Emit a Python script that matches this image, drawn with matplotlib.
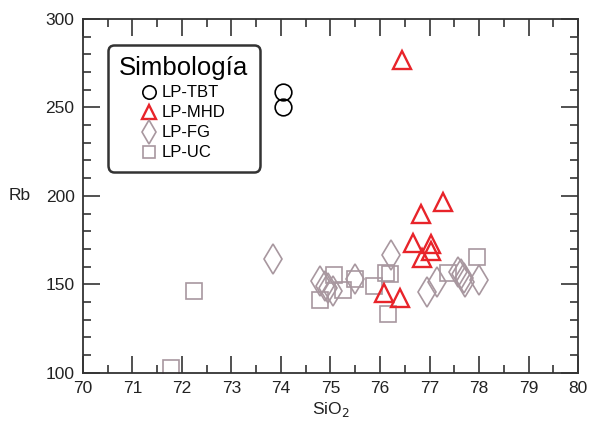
import matplotlib.pyplot as plt
from matplotlib.ticker import MultipleLocator

plt.rcParams['font.family'] = ['Liberation Sans', 'DejaVu Sans']

# LP-TBT
tbt_sio2 = [74.05, 74.05]
tbt_rb = [258.5, 250.0]

# LP-MHD
mhd_sio2 = [76.44, 77.28, 76.83, 76.66, 77.03, 77.03, 76.85, 76.09, 76.41]
mhd_rb = [277.0, 196.4, 189.7, 173.5, 173.0, 169.0, 165.0, 145.2, 142.4]

# LP-FG
fg_sio2 = [73.84, 74.79, 74.89, 74.95, 75.05, 75.50, 76.22, 76.94, 77.16,
           77.57, 77.64, 77.69, 77.72, 78.00]
fg_rb = [164.4, 151.8, 149.0, 148.0, 146.1, 153.1, 166.3, 145.6, 151.2,
         156.9, 155.6, 153.7, 151.2, 152.2]

# LP-UC
uc_sio2 = [71.77, 72.24, 74.79, 75.07, 75.26, 75.50, 75.87, 76.13, 76.21,
           76.16, 77.38, 77.95]
uc_rb = [103.0, 146.0, 141.4, 155.5, 146.7, 153.1, 149.3, 156.5, 155.6,
         133.3, 156.5, 165.3]

grey = '#a8979f'
red = '#e8242a'
dark = '#333333'

fig = plt.figure(figsize=(5.96, 4.30), dpi=100)
ax = fig.add_axes([0.139, 0.133, 0.831, 0.823])

ax.plot(uc_sio2, uc_rb, 's', ms=11.5, mfc='none', mec=grey, mew=1.2, label='LP-UC', zorder=2)
ax.plot(fg_sio2, fg_rb, 'd', ms=15, mfc='none', mec=grey, mew=1.2, label='LP-FG', zorder=2)
ax.plot(mhd_sio2, mhd_rb, '^', ms=13, mfc='none', mec=red, mew=1.7, label='LP-MHD', zorder=3)
ax.plot(tbt_sio2, tbt_rb, 'o', ms=12, mfc='none', mec='black', mew=1.2, label='LP-TBT', zorder=3)

ax.set_xlim(70, 80)
ax.set_ylim(100, 300)
ax.xaxis.set_major_locator(MultipleLocator(1))
ax.xaxis.set_minor_locator(MultipleLocator(0.5))
ax.yaxis.set_major_locator(MultipleLocator(50))
ax.yaxis.set_minor_locator(MultipleLocator(10))
ax.tick_params(which='both', direction='in', top=True, right=True, color=dark,
               labelsize=12.5, labelcolor='#222222', width=1.2)
ax.tick_params(which='major', length=12, pad=6)
ax.tick_params(which='minor', length=6)
for s in ax.spines.values():
    s.set_color(dark)
    s.set_linewidth(1.3)

ax.set_xlabel('SiO$_2$', fontsize=12.5, color='#222222', labelpad=3)
ax.set_ylabel('Rb', fontsize=12.5, color='#222222', rotation=0, ha='center', va='center')
ax.yaxis.set_label_coords(-0.127, 0.5)

h, l = ax.get_legend_handles_labels()
order = [3, 2, 1, 0]
leg = ax.legend([h[i] for i in order], [l[i] for i in order], title='Simbología',
                loc='upper left', bbox_to_anchor=(0.05, 0.927), borderaxespad=0,
                fontsize=12, title_fontsize=18.5, markerscale=0.8, handlelength=0.8,
                handletextpad=0.4, labelspacing=0.3, borderpad=0.7, fancybox=True,
                framealpha=1)
leg.get_frame().set_edgecolor(dark)
leg.get_frame().set_linewidth(1.8)
leg.get_frame().set_boxstyle('round', pad=0, rounding_size=0.4)

fig.savefig('out.png', dpi=100)
